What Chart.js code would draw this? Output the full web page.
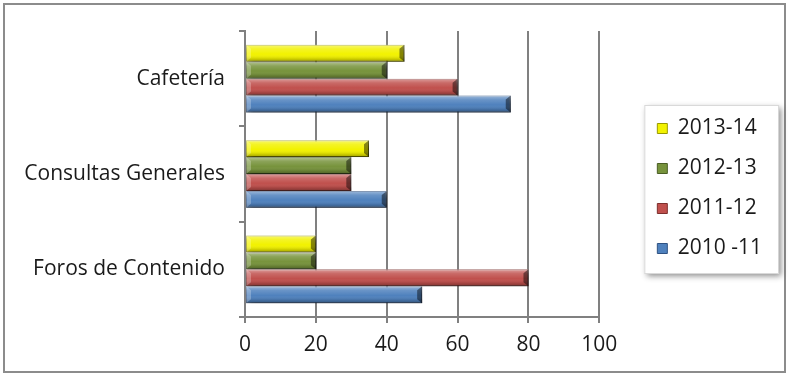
<!DOCTYPE html>
<html>
<head>
<meta charset="utf-8">
<script src="https://cdn.jsdelivr.net/npm/chart.js@4"></script>
<style>
  html, body { margin: 0; padding: 0; background: #fff; }
  #wrap { width: 790px; height: 377px; }
</style>
</head>
<body>
<div id="wrap"><canvas id="usageChart" width="790" height="377"></canvas></div>
<script>
var categories = ['Cafetería', 'Consultas Generales', 'Foros de Contenido'];
var seriesNames = ['2013-14', '2012-13', '2011-12', '2010 -11'];
var values1314 = [45, 35, 20];
var values1213 = [40, 30, 20];
var values1112 = [60, 30, 80];
var values1011 = [75, 40, 50];
var xTicks = [0, 20, 40, 60, 80, 100];

var colors = ['#f2f200', '#77933c', '#c0504d', '#4f81bd'];
var edges = ['#9a9a00', '#4b5e25', '#7d2f2d', '#2f5283'];
var fontFamily = '"Open Sans", "Noto Sans", sans-serif';
var gray = '#808080';

var frame = {
    id: 'frame',
    beforeDraw: function (chart) {
        var c = chart.ctx;
        c.save();
        c.strokeStyle = '#8c8c8c';
        c.lineWidth = 2;
        c.strokeRect(4, 4, 781, 368);
        // box behind the legend
        var hb = chart.legend && chart.legend.legendHitBoxes;
        if (hb && hb.length) {
            var l = Math.min.apply(null, hb.map(function (h) { return h.left; })) - 13;
            var r = Math.max.apply(null, hb.map(function (h) { return h.left + h.width; })) + 16;
            var t = Math.min.apply(null, hb.map(function (h) { return h.top; })) - 13;
            var b = Math.max.apply(null, hb.map(function (h) { return h.top + h.height; })) + 14;
            c.shadowColor = 'rgba(0,0,0,0.45)';
            c.shadowBlur = 6;
            c.shadowOffsetX = 3;
            c.shadowOffsetY = 3;
            c.fillStyle = '#fff';
            c.fillRect(l, t, r - l, b - t);
            c.shadowColor = 'transparent';
            c.strokeStyle = '#d9d9d9';
            c.lineWidth = 1;
            c.strokeRect(l + 0.5, t + 0.5, r - l, b - t);
        }
        c.restore();
    },
    beforeDatasetsDraw: function (chart) {
        var c = chart.ctx;
        c.save();
        c.shadowColor = 'rgba(0,0,0,0.4)';
        c.shadowBlur = 5;
        c.shadowOffsetX = 3;
        c.shadowOffsetY = 3;
    },
    afterDatasetsDraw: function (chart) {
        var c = chart.ctx;
        c.restore();
        // bevel shading on each bar
        chart.data.datasets.forEach(function (ds, i) {
            chart.getDatasetMeta(i).data.forEach(function (bar) {
                var p = bar.getProps(['x', 'y', 'base', 'height'], true);
                var top = p.y - p.height / 2;
                var w = p.x - p.base;
                var g = c.createLinearGradient(0, top, 0, top + p.height);
                g.addColorStop(0, 'rgba(255,255,255,0.45)');
                g.addColorStop(0.25, 'rgba(255,255,255,0.15)');
                g.addColorStop(0.55, 'rgba(255,255,255,0)');
                g.addColorStop(0.8, 'rgba(0,0,0,0.12)');
                g.addColorStop(1, 'rgba(0,0,0,0.35)');
                c.save();
                c.fillStyle = g;
                c.fillRect(p.base, top, w, p.height);
                c.fillStyle = 'rgba(0,0,0,0.45)';
                c.beginPath();
                c.moveTo(p.x, top);
                c.lineTo(p.x - 5, top + 4);
                c.lineTo(p.x - 5, top + p.height - 4);
                c.lineTo(p.x, top + p.height);
                c.closePath();
                c.fill();
                c.fillStyle = 'rgba(255,255,255,0.25)';
                c.beginPath();
                c.moveTo(p.base, top);
                c.lineTo(p.base + 5, top + 4);
                c.lineTo(p.base + 5, top + p.height - 4);
                c.lineTo(p.base, top + p.height);
                c.closePath();
                c.fill();
                c.restore();
            });
        });
    }
};

var seriesValues = [values1314, values1213, values1112, values1011];

var ctx = document.getElementById('usageChart').getContext('2d');
var usageChart = new Chart(ctx, {
    type: 'bar',
    data: {
        labels: categories,
        datasets: seriesNames.map(function (name, i) {
            return {
                label: name,
                data: seriesValues[i],
                backgroundColor: colors[i],
                borderColor: edges[i],
                borderWidth: 1,
                borderSkipped: false,
                categoryPercentage: 0.71,
                barPercentage: 1.0
            };
        })
    },
    options: {
        indexAxis: 'y',
        responsive: false,
        animation: false,
        layout: {
            padding: { top: 31, right: 24, bottom: 20, left: 0 }
        },
        plugins: {
            tooltip: { enabled: false },
            legend: {
                position: 'right',
                align: 'start',
                title: {
                    display: true,
                    text: '',
                    font: { size: 10, lineHeight: 1 },
                    padding: { top: 58, bottom: 0 }
                },
                labels: {
                    color: '#1a1a1a',
                    font: { family: fontFamily, size: 21 },
                    boxWidth: 10,
                    boxHeight: 10,
                    padding: 19
                }
            }
        },
        scales: {
            x: {
                min: xTicks[0],
                max: xTicks[xTicks.length - 1],
                afterBuildTicks: function (s) {
                    s.ticks = xTicks.map(function (v) { return { value: v }; });
                },
                afterFit: function (s) { s.height = 40; },
                grid: {
                    color: gray,
                    lineWidth: 2,
                    tickLength: 6
                },
                border: { color: gray, width: 2 },
                ticks: {
                    color: '#1a1a1a',
                    padding: 9,
                    font: { family: fontFamily, size: 21 }
                }
            },
            y: {
                afterFit: function (s) { s.width = 245; },
                grid: {
                    drawOnChartArea: false,
                    color: gray,
                    lineWidth: 2,
                    tickLength: 6
                },
                border: { color: gray, width: 2 },
                ticks: {
                    color: '#1a1a1a',
                    padding: 14,
                    font: { family: fontFamily, size: 21 }
                }
            },
            gap: {
                type: 'linear',
                position: 'right',
                afterFit: function (s) { s.width = 39; },
                grid: { display: false },
                border: { display: false },
                ticks: { display: false }
            }
        }
    },
    plugins: [frame]
});
</script>
</body>
</html>
